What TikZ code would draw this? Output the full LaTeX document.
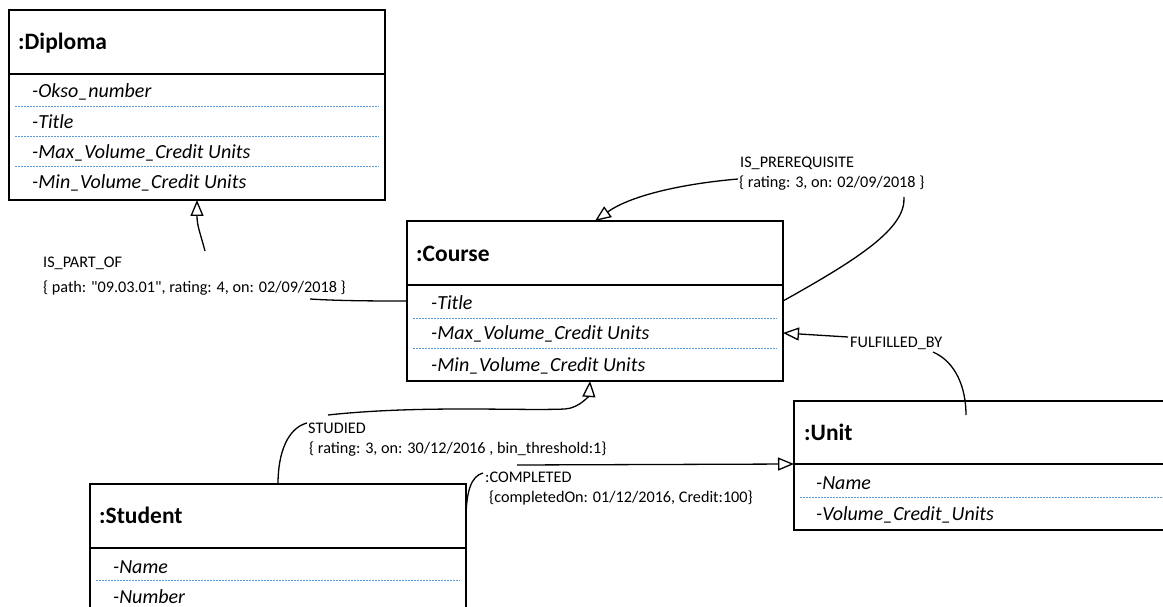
\documentclass[tikz,border=0pt]{standalone}
\usepackage{fontspec}
\setmainfont{Carlito}[Ligatures=TeXOff]
\usetikzlibrary{arrows.meta,calc}
\definecolor{dotblue}{RGB}{91,155,213}
\begin{document}
\begin{tikzpicture}[x=1pt,y=-1pt,
 box/.style={draw=black, line width=1.5pt, inner sep=0pt, outer sep=0pt, anchor=north west, minimum width=376pt},
 hdr/.style={anchor=base west, inner sep=0pt, font=\fontsize{23.5}{28}\selectfont\bfseries},
 attr/.style={anchor=base west, inner sep=0pt, font=\fontsize{20}{24}\selectfont\itshape},
 lbl/.style={anchor=base west, inner sep=0pt, font=\fontsize{16.2}{19}\selectfont},
 sep/.style={draw=dotblue, line width=1pt, dash pattern=on 2pt off 1pt},
 conn/.style={draw=black, line width=1.3pt},
 inh/.style={conn, -{Triangle[open, length=16pt, width=13pt, line width=1.3pt]}},
]
\clip (0,0) rectangle (1163,607);
\fill[white] (0,0) rectangle (1163,607);

% Diploma
\node[box, minimum height=64pt] (diplomaH) at (9,10) {};
\node[box, minimum height=126pt] (diplomaB) at (9,74) {};
\node[hdr] (diplomaT) at (18,49.5) {:Diploma};
\node[attr] (d1) at (32,98) {-Okso\_number};
\node[attr] (d2) at (32,129) {-Title};
\node[attr] (d3) at (32,159) {-Max\_Volume\_Credit Units};
\node[attr] (d4) at (32,189) {-Min\_Volume\_Credit Units};
\draw[sep] (15,107) -- (379,107);
\draw[sep] (15,137) -- (379,137);
\draw[sep] (15,167) -- (379,167);

% Course
\node[box, minimum height=64pt] (courseH) at (407,221) {};
\node[box, minimum height=96pt] (courseB) at (407,285) {};
\node[hdr] (courseT) at (416,261.5) {:Course};
\node[attr] (c1) at (431,309) {-Title};
\node[attr] (c2) at (431,339) {-Max\_Volume\_Credit Units};
\node[attr] (c3) at (431,371) {-Min\_Volume\_Credit Units};
\draw[sep] (413,318) -- (777,318);
\draw[sep] (413,348) -- (777,348);

% Student
\node[box, minimum height=64pt] (studentH) at (90,484) {};
\node[box, minimum height=100pt] (studentB) at (90,548) {};
\node[hdr] (studentT) at (99,523.5) {:Student};
\node[attr] (s1) at (113,573) {-Name};
\node[attr] (s2) at (113,603) {-Number};
\draw[sep] (96,580) -- (460,580);

% Unit
\node[box, minimum height=63pt] (unitH) at (794,401) {};
\node[box, minimum height=66pt] (unitB) at (794,464) {};
\node[hdr] (unitT) at (804,440) {:Unit};
\node[attr] (u1) at (816,489) {-Name};
\node[attr] (u2) at (816,520) {-Volume\_Credit\_Units};
\draw[sep] (800,497) -- (1164,497);

% IS_PART_OF
\coordinate (ipoA) at (205,251);
\coordinate (ipoB) at (310,299);
\draw[inh] (ipoA) .. controls (200,232) and (197,226) .. (diplomaB.south);
\draw[conn] (ipoB) .. controls (340,301) and (380,301) .. ($(courseB.north west)+(0,16)$);
\node[lbl] (ipoL1) at (43,267) {IS\_PART\_OF};
\node[lbl] (ipoL2) at (43,292) {\{ path: "09.03.01", rating: 4, on: 02/09/2018 \}};

% IS_PREREQUISITE
\coordinate (preA) at (738,179);
\coordinate (preB) at (904,197);
\draw[inh] (preA) .. controls (680,184) and (630,196) .. (courseH.north);
\draw[conn] ($(courseB.north east)+(0,16)$) .. controls (860,258) and (906,228) .. (preB);
\node[lbl] (preL1) at (740,168) {IS\_PREREQUISITE};
\node[lbl] (preL2) at (739,188) {\{ rating: 3, on: 02/09/2018 \}};

% FULFILLED_BY
\coordinate (fulA) at (848,337);
\coordinate (fulB) at (933,352);
\draw[inh] (fulA) -- (courseB.east);
\draw[conn] (fulB) .. controls (956,362) and (966,388) .. ($(unitH.north west)+(172,14)$);
\node[lbl] (fulL) at (850,347) {FULFILLED\_BY};

% STUDIED
\coordinate (stuA) at (307,423);
\coordinate (stuB) at (328,415);
\draw[conn] (studentH.north) .. controls (278,452) and (288,428) .. (stuA);
\draw[inh] (stuB) .. controls (420,405) and (520,411) .. (565,409) .. controls (580,408) and (589,395) .. ($(courseB.south)+(-5,0)$);
\node[lbl] (stuL1) at (308,433) {STUDIED};
\node[lbl] (stuL2) at (309,453) {\{ rating: 3, on: 30/12/2016 , bin\_threshold:1\}};

% COMPLETED
\coordinate (comA) at (483,473);
\coordinate (comB) at (517,465);
\draw[conn] ($(studentH.east)+(0,4)$) .. controls (466,492) and (471,476) .. (comA);
\draw[inh] (comB) -- (unitH.south west);
\node[lbl] (comL1) at (485,482) {:COMPLETED};
\node[lbl] (comL2) at (489,502) {\{completedOn: 01/12/2016, Credit:100\}};
\end{tikzpicture}
\end{document}
